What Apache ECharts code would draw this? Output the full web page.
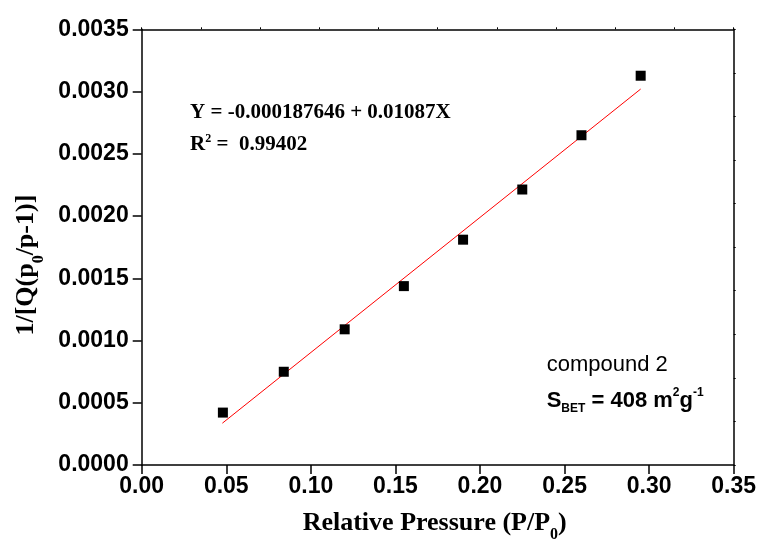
<!DOCTYPE html>
<html>
<head>
<meta charset="utf-8">
<script src="https://cdn.jsdelivr.net/npm/echarts@6/dist/echarts.min.js"></script>
<style>html,body{margin:0;padding:0;background:#fff;}#c{width:764px;height:548px;}</style>
</head>
<body>
<div id="c"></div>
<script>
// Data
const pressure = [0.048, 0.084, 0.120, 0.155, 0.190, 0.225, 0.260, 0.295];
const betValue = [0.000421, 0.000749, 0.00109, 0.001437, 0.00181, 0.002213, 0.002649, 0.003127];
const fitX = [0.0477, 0.295];
const fitY = [0.000336, 0.00302];
const xRange = [0, 0.35];
const yRange = [0, 0.0035];
const xStep = 0.05;
const yStep = 0.0005;

const chart = echarts.init(document.getElementById('c'), null, {renderer: 'canvas'});

const serif = 'Liberation Serif, Times New Roman, serif';
const sans = 'Liberation Sans, Arial, sans-serif';
const lineStyle = {color: '#000', width: 1.5};

const titleRich = {
  t: {fontSize: 26, fontWeight: 'bold', fontFamily: serif, color: '#000', lineHeight: 40},
  s: {fontSize: 16, fontWeight: 'bold', fontFamily: serif, color: '#000', lineHeight: 14, verticalAlign: 'bottom'}
};

chart.setOption({
  animation: false,
  backgroundColor: '#fff',
  grid: {left: 141.7, right: 30.3, top: 29.3, bottom: 81},
  xAxis: [{
    type: 'value', position: 'bottom', min: xRange[0], max: xRange[1], interval: xStep,
    axisLine: {show: true, onZero: false, lineStyle: lineStyle},
    axisTick: {show: true, length: 9, lineStyle: lineStyle},
    splitLine: {show: false},
    axisLabel: {margin: 10, fontSize: 23, fontWeight: 'bold', fontFamily: sans, color: '#000',
      formatter: v => v.toFixed(2)},
    name: '{t|Relative Pressure (P/P}{s|0}{t|)}',
    nameLocation: 'middle', nameGap: 38,
    nameTextStyle: {rich: titleRich, padding: [0, 6, 0, 0]}
  }, {
    type: 'value', position: 'top', min: xRange[0], max: xRange[1], interval: 0.035,
    axisLine: {show: true, onZero: false, lineStyle: lineStyle},
    axisTick: {show: true, length: 2, lineStyle: {color: '#000', width: 1}},
    axisLabel: {show: false}, splitLine: {show: false}
  }],
  yAxis: [{
    type: 'value', position: 'left', min: yRange[0], max: yRange[1], interval: yStep,
    axisLine: {show: true, onZero: false, lineStyle: lineStyle},
    axisTick: {show: true, length: 9, lineStyle: lineStyle},
    splitLine: {show: false},
    axisLabel: {margin: 13, fontSize: 23, fontWeight: 'bold', fontFamily: sans, color: '#000',
      formatter: v => v.toFixed(4)},
    name: '{t|1/[Q(p}{s|0}{t|/p-1)]}',
    nameLocation: 'middle', nameRotate: 90, nameGap: 95,
    nameTextStyle: {rich: titleRich, padding: [0, 36, 0, 0]}
  }, {
    type: 'value', position: 'right', min: yRange[0], max: yRange[1], interval: 0.00035,
    axisLine: {show: true, onZero: false, lineStyle: lineStyle},
    axisTick: {show: true, length: 2, lineStyle: {color: '#000', width: 1}},
    axisLabel: {show: false}, splitLine: {show: false}
  }],
  series: [{
    type: 'line',
    data: fitX.map((x, i) => [x, fitY[i]]),
    symbol: 'none',
    lineStyle: {color: '#ff0000', width: 1},
    z: 2
  }, {
    type: 'scatter',
    data: pressure.map((x, i) => [x, betValue[i]]),
    symbol: 'rect', symbolSize: 10,
    itemStyle: {color: '#000', opacity: 1},
    z: 3
  }],
  graphic: [{
    type: 'text', x: 190, y: 113,
    style: {text: 'Y = -0.000187646 + 0.01087X', fontSize: 21, fontWeight: 'bold', fontFamily: serif,
      fill: '#000', verticalAlign: 'middle'}
  }, {
    type: 'text', x: 190, y: 145,
    style: {
      text: '{b|R}{p|2}{b| =  0.99402}', verticalAlign: 'middle',
      rich: {
        b: {fontSize: 21, fontWeight: 'bold', fontFamily: serif, color: '#000', lineHeight: 24},
        p: {fontSize: 12, fontWeight: 'bold', fontFamily: serif, color: '#000', lineHeight: 12, verticalAlign: 'top'}
      }
    }
  }, {
    type: 'text', x: 546.7, y: 365,
    style: {text: 'compound 2', fontSize: 22, fontFamily: sans, fill: '#000', verticalAlign: 'middle'}
  }, {
    type: 'text', x: 546.7, y: 401,
    style: {
      text: '{b|S}{s|BET}{b| = 408 m}{p|2}{b|g}{p|-1}', verticalAlign: 'middle',
      rich: {
        b: {fontSize: 22, fontWeight: 'bold', fontFamily: sans, color: '#000', lineHeight: 28},
        s: {fontSize: 12, fontWeight: 'bold', fontFamily: sans, color: '#000', lineHeight: 12, verticalAlign: 'bottom'},
        p: {fontSize: 12, fontWeight: 'bold', fontFamily: sans, color: '#000', lineHeight: 12, verticalAlign: 'top'}
      }
    }
  }]
});
</script>
</body>
</html>
